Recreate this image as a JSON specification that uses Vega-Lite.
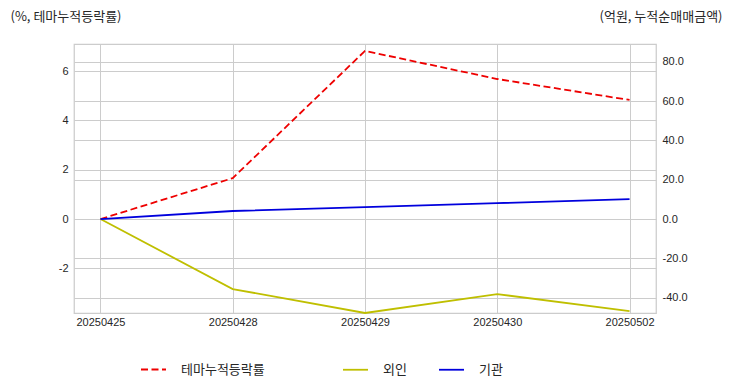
{
  "$schema": "https://vega.github.io/schema/vega-lite/v6.json",
  "width": 582,
  "height": 269,
  "autosize": {"type": "none"},
  "padding": {"left": 74, "top": 44, "right": 76, "bottom": 79},
  "background": "white",
  "config": {
    "locale": {"number": {"decimal": ".", "thousands": ",", "grouping": [3], "currency": ["$", ""], "minus": "-"}},
    "font": "Liberation Sans, Noto Sans CJK KR",
    "view": {"stroke": "#cccccc", "strokeWidth": 1.25},
    "axis": {
      "domain": false,
      "ticks": false,
      "gridColor": "#cccccc",
      "gridWidth": 1,
      "labelColor": "#262626",
      "labelFontSize": 11,
      "labelFont": "Liberation Sans, Noto Sans CJK KR"
    },
    "legend": {
      "labelFont": "Noto Sans CJK KR",
      "labelFontSize": 13,
      "labelColor": "#262626"
    }
  },
  "datasets": {
    "theme": [
      {"date": "20250425", "series": "테마누적등락률", "value": 0},
      {"date": "20250428", "series": "테마누적등락률", "value": 1.66},
      {"date": "20250429", "series": "테마누적등락률", "value": 6.82},
      {"date": "20250430", "series": "테마누적등락률", "value": 5.68},
      {"date": "20250502", "series": "테마누적등락률", "value": 4.83}
    ],
    "flow": [
      {"date": "20250425", "series": "외인", "value": 0},
      {"date": "20250428", "series": "외인", "value": -35.6},
      {"date": "20250429", "series": "외인", "value": -47.8},
      {"date": "20250430", "series": "외인", "value": -38.2},
      {"date": "20250502", "series": "외인", "value": -46.8},
      {"date": "20250425", "series": "기관", "value": 0},
      {"date": "20250428", "series": "기관", "value": 4.1},
      {"date": "20250429", "series": "기관", "value": 6.1},
      {"date": "20250430", "series": "기관", "value": 8.1},
      {"date": "20250502", "series": "기관", "value": 10.2}
    ]
  },
  "layer": [
    {
      "data": {"name": "theme"},
      "mark": {"type": "line", "color": "#ee0000", "strokeWidth": 1.8},
      "encoding": {
        "x": {
          "field": "date",
          "type": "ordinal",
          "scale": {"type": "point", "padding": 0.2},
          "axis": {"title": null, "labelAngle": 0, "labelPadding": 3, "grid": true}
        },
        "y": {
          "field": "value",
          "type": "quantitative",
          "scale": {"domain": [-3.81, 7.1], "nice": false, "zero": false},
          "axis": {
            "values": [-2, 0, 2, 4, 6],
            "format": "d",
            "labelPadding": 6,
            "grid": true,
            "title": "(%, 테마누적등락률)",
            "titleAngle": 0,
            "titleX": -64,
            "titleY": -28,
            "titleAlign": "left",
            "titleBaseline": "middle",
            "titleFont": "Noto Sans CJK KR",
            "titleFontSize": 13,
            "titleFontWeight": "normal",
            "titleColor": "#262626"
          }
        },
        "strokeDash": {
          "field": "series",
          "type": "nominal",
          "scale": {"domain": ["테마누적등락률"], "range": [[7, 3.5]]},
          "legend": {
            "title": null,
            "orient": "none",
            "legendX": 66,
            "legendY": 312,
            "symbolType": "stroke",
            "symbolSize": 625,
            "symbolStrokeColor": "#ee0000",
            "symbolStrokeWidth": 1.8,
            "labelOffset": 14
          }
        }
      }
    },
    {
      "data": {"name": "flow"},
      "mark": {"type": "line", "strokeWidth": 1.8},
      "encoding": {
        "x": {"field": "date", "type": "ordinal", "scale": {"type": "point", "padding": 0.2}},
        "y": {
          "field": "value",
          "type": "quantitative",
          "scale": {"domain": [-47.8, 89.1], "nice": false, "zero": false},
          "axis": {
            "orient": "right",
            "values": [-40, -20, 0, 20, 40, 60, 80],
            "format": ".1f",
            "labelPadding": 6,
            "grid": true,
            "title": "(억원, 누적순매매금액)",
            "titleAngle": 0,
            "titleX": 66,
            "titleY": -28,
            "titleAlign": "right",
            "titleBaseline": "middle",
            "titleFont": "Noto Sans CJK KR",
            "titleFontSize": 13,
            "titleFontWeight": "normal",
            "titleColor": "#262626"
          }
        },
        "color": {
          "field": "series",
          "type": "nominal",
          "scale": {"domain": ["외인", "기관"], "range": ["#bfbf00", "#0000dd"]},
          "legend": {
            "title": null,
            "orient": "none",
            "direction": "horizontal",
            "legendX": 268,
            "legendY": 312,
            "symbolType": "stroke",
            "symbolSize": 625,
            "symbolStrokeWidth": 1.8,
            "labelOffset": 14,
            "columnPadding": 28
          }
        }
      }
    }
  ],
  "resolve": {"scale": {"y": "independent"}}
}
